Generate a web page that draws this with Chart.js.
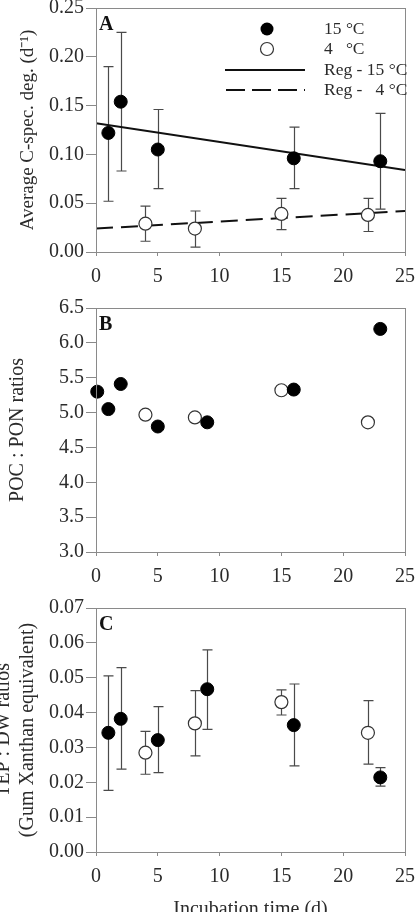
<!DOCTYPE html>
<html>
<head>
<meta charset="utf-8">
<script src="https://cdn.jsdelivr.net/npm/chart.js@4.4.0/dist/chart.umd.min.js"></script>
<style>
  body { margin: 0; background: #fff; width: 417px; height: 912px; overflow: hidden; position: relative; }
  canvas { display: block; position: absolute; left: 0; }
  #chartA { top: 0; }
  #chartB { top: 285px; }
  #chartC { top: 585px; }
</style>
</head>
<body>
<canvas id="chartA" width="417" height="300"></canvas>
<canvas id="chartB" width="417" height="315"></canvas>
<canvas id="chartC" width="417" height="327"></canvas>
<script>
// Panel A - average C-specific degradation (d-1)
const daysA15 = [1, 2, 5, 16, 23];
const degA15 = [0.122, 0.154, 0.105, 0.096, 0.093];
const degA15Lo = [0.052, 0.083, 0.065, 0.065, 0.044];
const degA15Hi = [0.190, 0.225, 0.146, 0.128, 0.142];
const daysA4 = [4, 8, 15, 22];
const degA4 = [0.029, 0.024, 0.039, 0.038];
const degA4Lo = [0.011, 0.005, 0.023, 0.021];
const degA4Hi = [0.047, 0.042, 0.055, 0.055];
const regDays = [0, 25];
const reg15 = [0.132, 0.084];
const reg4 = [0.024, 0.042];

// Panel B - POC : PON ratios
const daysB15 = [0.1, 1, 2, 5, 9, 16, 23];
const ratioB15 = [5.30, 5.05, 5.41, 4.80, 4.86, 5.33, 6.20];
const daysB4 = [4, 8, 15, 22];
const ratioB4 = [4.97, 4.93, 5.32, 4.86];

// Panel C - TEP : DW ratios
const daysC15 = [1, 2, 5, 9, 16, 23];
const tepC15 = [0.0342, 0.0382, 0.0321, 0.0467, 0.0364, 0.0214];
const tepC15Lo = [0.0177, 0.0238, 0.0228, 0.0352, 0.0247, 0.0189];
const tepC15Hi = [0.0505, 0.0529, 0.0417, 0.0580, 0.0482, 0.0242];
const daysC4 = [4, 8, 15, 22];
const tepC4 = [0.0285, 0.0369, 0.0430, 0.0342];
const tepC4Lo = [0.0223, 0.0276, 0.0393, 0.0252];
const tepC4Hi = [0.0346, 0.0463, 0.0465, 0.0434];

// ticks
const xTicks = [0, 5, 10, 15, 20, 25];
const yTicksA = [0, 0.05, 0.1, 0.15, 0.2, 0.25];
const yLabelsA = ["0.00", "0.05", "0.10", "0.15", "0.20", "0.25"];
const yTicksB = [3, 3.5, 4, 4.5, 5, 5.5, 6, 6.5];
const yLabelsB = ["3.0", "3.5", "4.0", "4.5", "5.0", "5.5", "6.0", "6.5"];
const yTicksC = [0, 0.01, 0.02, 0.03, 0.04, 0.05, 0.06, 0.07];
const yLabelsC = ["0.00", "0.01", "0.02", "0.03", "0.04", "0.05", "0.06", "0.07"];

const legendLabels = ["15 °C", "4   °C", "Reg - 15 °C", "Reg -   4 °C"];

const SERIF = "'Liberation Serif', 'Times New Roman', serif";
const axisGray = "#8a8a8a";
const textColor = "#2b2b2b";

const toPoints = (xs, ys) => xs.map((x, i) => ({ x: x, y: ys[i] }));

// filled / open marker datasets
const filledSet = (xs, ys, lo, hi) => ({
  data: toPoints(xs, ys),
  lo: lo,
  hi: hi,
  clip: false,
  pointRadius: 6.5,
  pointBackgroundColor: "#000",
  pointBorderColor: "#000",
  pointBorderWidth: 1,
});
const openSet = (xs, ys, lo, hi) => ({
  data: toPoints(xs, ys),
  lo: lo,
  hi: hi,
  clip: false,
  pointRadius: 6.5,
  pointBackgroundColor: "#fff",
  pointBorderColor: "#333",
  pointBorderWidth: 1.2,
});

// Error bars drawn under the markers
const errorBars = {
  id: "errorBars",
  beforeDatasetsDraw(chart) {
    const { ctx, scales } = chart;
    ctx.save();
    ctx.strokeStyle = "#4a4a4a";
    ctx.lineWidth = 1.2;
    chart.data.datasets.forEach((ds) => {
      if (!ds.lo) return;
      ds.data.forEach((p, i) => {
        const px = Math.round(scales.x.getPixelForValue(p.x)) + 0.5;
        const top = scales.y.getPixelForValue(ds.hi[i]);
        const bot = scales.y.getPixelForValue(ds.lo[i]);
        ctx.beginPath();
        ctx.moveTo(px, top);
        ctx.lineTo(px, bot);
        ctx.moveTo(px - 5, top);
        ctx.lineTo(px + 5, top);
        ctx.moveTo(px - 5, bot);
        ctx.lineTo(px + 5, bot);
        ctx.stroke();
      });
    });
    ctx.restore();
  },
};

// Box around plot area + panel letter
const frame = {
  id: "frame",
  afterDraw(chart, args, opts) {
    const { ctx, chartArea } = chart;
    ctx.save();
    ctx.strokeStyle = axisGray;
    ctx.lineWidth = 1;
    ctx.strokeRect(
      Math.round(chartArea.left) + 0.5,
      Math.round(chartArea.top) + 0.5,
      Math.round(chartArea.right - chartArea.left),
      Math.round(chartArea.bottom - chartArea.top)
    );
    ctx.fillStyle = "#111";
    ctx.font = "bold 20px " + SERIF;
    ctx.textBaseline = "middle";
    ctx.textAlign = "left";
    ctx.fillText(opts.letter, chartArea.left + 3, chartArea.top + 17);
    ctx.restore();
  },
};

// Legend of panel A
const legendA = {
  id: "legendA",
  afterDraw(chart) {
    const ctx = chart.ctx;
    const rows = [29, 49, 70, 90];
    ctx.save();
    ctx.fillStyle = "#000";
    ctx.beginPath();
    ctx.arc(267, rows[0], 6.5, 0, Math.PI * 2);
    ctx.fill();
    ctx.fillStyle = "#fff";
    ctx.strokeStyle = "#333";
    ctx.lineWidth = 1.2;
    ctx.beginPath();
    ctx.arc(267, rows[1], 6.5, 0, Math.PI * 2);
    ctx.fill();
    ctx.stroke();
    ctx.strokeStyle = "#111";
    ctx.lineWidth = 2;
    ctx.beginPath();
    ctx.moveTo(225, rows[2]);
    ctx.lineTo(305, rows[2]);
    ctx.stroke();
    ctx.setLineDash([19, 7]);
    ctx.beginPath();
    ctx.moveTo(226, rows[3]);
    ctx.lineTo(305, rows[3]);
    ctx.stroke();
    ctx.setLineDash([]);
    ctx.fillStyle = textColor;
    ctx.font = "17.5px " + SERIF;
    ctx.textBaseline = "middle";
    ctx.textAlign = "left";
    legendLabels.forEach((t, i) => ctx.fillText(t, 324, rows[i]));
    ctx.restore();
  },
};

const makeOptions = (cfg) => ({
  responsive: false,
  animation: false,
  layout: { padding: { top: cfg.topPad, right: 12, left: 0, bottom: 0 } },
  plugins: {
    legend: { display: false },
    tooltip: { enabled: false },
    frame: { letter: cfg.letter },
  },
  scales: {
    x: {
      type: "linear",
      min: 0,
      max: 25,
      afterBuildTicks: (s) => {
        s.ticks = xTicks.map((v) => ({ value: v }));
      },
      afterFit: (s) => {
        s.height = cfg.xHeight;
        s.paddingLeft = 0;
        s.paddingRight = 0;
      },
      grid: { drawOnChartArea: false, tickLength: 4, color: axisGray },
      border: { color: axisGray },
      ticks: {
        font: { family: SERIF, size: 20 },
        color: textColor,
        padding: 9,
        maxRotation: 0,
        callback: (v) => String(v),
      },
      title: cfg.xTitle || { display: false },
    },
    y: {
      type: "linear",
      min: cfg.yTicks[0],
      max: cfg.yTicks[cfg.yTicks.length - 1],
      afterBuildTicks: (s) => {
        s.ticks = cfg.yTicks.map((v) => ({ value: v }));
      },
      afterFit: (s) => {
        s.width = 96;
        s.paddingTop = 0;
        s.paddingBottom = 0;
      },
      grid: { drawOnChartArea: false, tickLength: 10, color: axisGray },
      border: { color: axisGray },
      ticks: {
        font: { family: SERIF, size: 20 },
        color: textColor,
        padding: 2,
        callback: (v, i) => cfg.yLabels[i],
      },
      title: {
        display: true,
        text: cfg.yTitle,
        color: textColor,
        font: { family: SERIF, size: cfg.yTitleSize || 20, lineHeight: cfg.yLineHeight || 1.2 },
        padding: { top: cfg.yTitlePad, bottom: 0 },
      },
    },
  },
});

// Panel A
new Chart(document.getElementById("chartA").getContext("2d"), {
  type: "scatter",
  data: {
    datasets: [
      filledSet(daysA15, degA15, degA15Lo, degA15Hi),
      openSet(daysA4, degA4, degA4Lo, degA4Hi),
      {
        data: toPoints(regDays, reg15),
        showLine: true,
        pointRadius: 0,
        borderColor: "#111",
        borderWidth: 2,
      },
      {
        data: toPoints(regDays, reg4),
        showLine: true,
        pointRadius: 0,
        borderColor: "#111",
        borderWidth: 2,
        borderDash: [17, 8],
      },
    ],
  },
  options: makeOptions({
    letter: "A",
    topPad: 8,
    xHeight: 48,
    yTicks: yTicksA,
    yLabels: yLabelsA,
    yTitle: "Average C-spec. deg. (d\u207B\u00B9)",
    yTitleSize: 19,
    yTitlePad: 17,
  }),
  plugins: [errorBars, frame, legendA],
});

// Panel B
new Chart(document.getElementById("chartB").getContext("2d"), {
  type: "scatter",
  data: {
    datasets: [
      filledSet(daysB15, ratioB15, null, null),
      openSet(daysB4, ratioB4, null, null),
    ],
  },
  options: makeOptions({
    letter: "B",
    topPad: 23,
    xHeight: 48,
    yTicks: yTicksB,
    yLabels: yLabelsB,
    yTitle: "POC : PON ratios",
    yTitlePad: 6,
  }),
  plugins: [errorBars, frame],
});

// Panel C
new Chart(document.getElementById("chartC").getContext("2d"), {
  type: "scatter",
  data: {
    datasets: [
      filledSet(daysC15, tepC15, tepC15Lo, tepC15Hi),
      openSet(daysC4, tepC4, tepC4Lo, tepC4Hi),
    ],
  },
  options: makeOptions({
    letter: "C",
    topPad: 23,
    xHeight: 60,
    yTicks: yTicksC,
    yLabels: yLabelsC,
    yTitle: ["TEP : DW ratios", "(Gum Xanthan equivalent)"],
    yLineHeight: 1.225,
    yTitlePad: -8.75,
    xTitle: {
      display: true,
      text: "Incubation time (d)",
      color: textColor,
      font: { family: SERIF, size: 20 },
      padding: { top: 0, bottom: -10 },
    },
  }),
  plugins: [errorBars, frame],
});
</script>
</body>
</html>
